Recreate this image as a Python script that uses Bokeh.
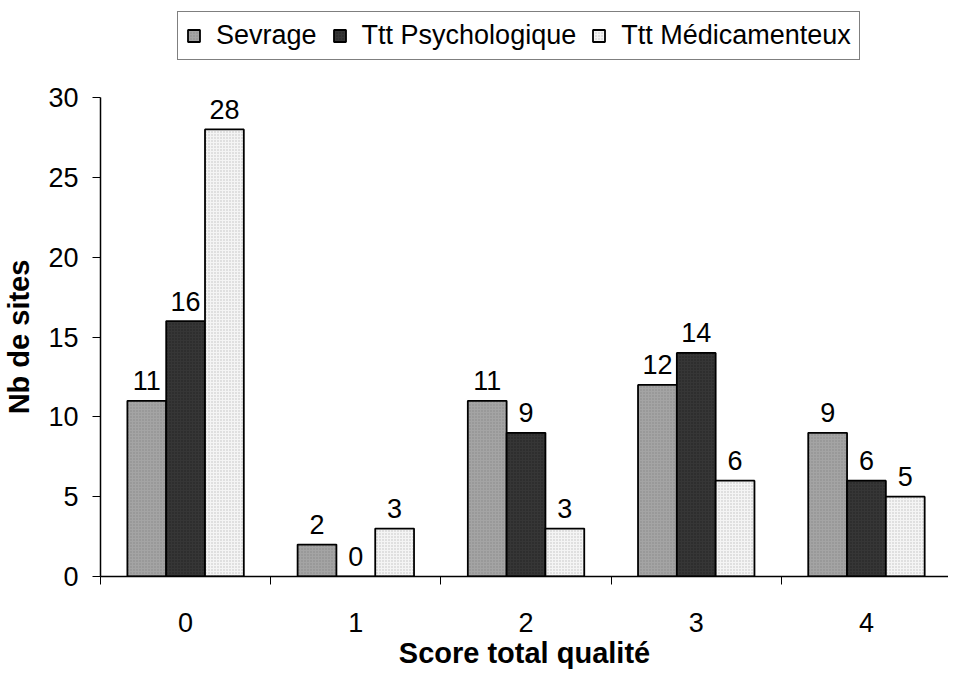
from bokeh.plotting import figure
from bokeh.layouts import column
from bokeh.models import ColumnDataSource, FixedTicker, Legend, LegendItem, Range1d
from bokeh.transform import dodge
from bokeh.core.properties import value
from bokeh.embed import file_html
from bokeh.resources import INLINE

# ---- data ----
scores = [0, 1, 2, 3, 4]
score_labels = ["0", "1", "2", "3", "4"]
sevrage = [11, 2, 11, 12, 9]
psychologique = [16, 0, 9, 14, 6]
medicamenteux = [28, 3, 3, 6, 5]
series_names = ["Sevrage", "Ttt Psychologique", "Ttt Médicamenteux"]
y_ticks = [0, 5, 10, 15, 20, 25, 30]

FONT = "Liberation Sans"
BW = 0.228
LEG_H = 82

styles = [
    dict(fill_color="#a4a4a4", hatch_pattern=".", hatch_color="#6a6a6a", hatch_scale=3, hatch_alpha=0.5),
    dict(fill_color="#363636", hatch_pattern=".", hatch_color="#0e0e0e", hatch_scale=3, hatch_alpha=0.5),
    dict(fill_color="#f4f4f4", hatch_pattern=".", hatch_color="#9a9a9a", hatch_scale=3, hatch_alpha=0.6),
]

# ---- main chart ----
p = figure(width=948, height=677 - LEG_H, output_backend="svg", toolbar_location=None,
           x_range=Range1d(-0.5, 4.482), y_range=Range1d(0, 30),
           min_border_left=96, min_border_right=0, min_border_top=15, min_border_bottom=101)
p.outline_line_color = None
p.xgrid.visible = False
p.ygrid.visible = False
p.background_fill_color = "white"
p.border_fill_color = "white"

src = ColumnDataSource(dict(x=scores, s=sevrage, p=psychologique, m=medicamenteux,
                            ls=[str(v) for v in sevrage],
                            lp=[str(v) for v in psychologique],
                            lm=[str(v) for v in medicamenteux]))

cols = ["s", "p", "m"]
lcols = ["ls", "lp", "lm"]
offs = [-BW, 0.0, BW]
for c, lc, off, st in zip(cols, lcols, offs, styles):
    p.vbar(x=dodge("x", off, range=p.x_range), top=c, width=BW, bottom=0, source=src,
           line_color="black", line_width=1.8, **st)
    p.text(x=dodge("x", off, range=p.x_range), y=c, text=lc, source=src,
           text_align="center", text_baseline="alphabetic", y_offset=-20,
           text_font=value(FONT), text_font_size="27px", text_color="black")

# x axis
xa = p.xaxis[0]
xa.ticker = FixedTicker(ticks=scores, minor_ticks=[-0.5, 0.5, 1.5, 2.5, 3.5, 4.5])
xa.major_label_overrides = {s: l for s, l in zip(scores, score_labels)}
xa.major_tick_out = 0
xa.major_tick_in = 0
xa.minor_tick_out = 8
xa.minor_tick_in = 0
xa.minor_tick_line_color = "black"
xa.axis_line_color = "black"
xa.axis_line_width = 1.5
xa.major_label_text_font = FONT
xa.major_label_text_font_size = "27px"
xa.major_label_text_color = "black"
xa.major_label_standoff = 28
xa.axis_label = "Score total qualité"
xa.axis_label_text_font = FONT
xa.axis_label_text_font_style = "bold"
xa.axis_label_text_font_size = "29px"
xa.axis_label_text_color = "black"
xa.axis_label_standoff = 2

ya = p.yaxis[0]
ya.ticker = FixedTicker(ticks=y_ticks, minor_ticks=[])
ya.major_tick_out = 8
ya.major_tick_in = 0
ya.major_tick_line_color = "black"
ya.axis_line_color = "black"
ya.axis_line_width = 1.5
ya.major_label_text_font = FONT
ya.major_label_text_font_size = "27px"
ya.major_label_text_color = "black"
ya.major_label_standoff = 14
ya.axis_label = "Nb de sites"
ya.axis_label_text_font = FONT
ya.axis_label_text_font_style = "bold"
ya.axis_label_text_font_size = "29px"
ya.axis_label_text_color = "black"
ya.axis_label_standoff = 10

# ---- legend strip ----
lf = figure(width=948, height=LEG_H, output_backend="svg", toolbar_location=None,
            x_range=Range1d(0, 1), y_range=Range1d(0, 1), x_axis_type=None, y_axis_type=None,
            min_border=0)
lf.outline_line_color = None
lf.background_fill_color = "white"
lf.border_fill_color = "white"
# tiny placeholder bars, hidden behind the legend box (only used for legend swatches)
leg_src = ColumnDataSource(dict(x=[0.5], top=[0.6], bottom=[0.55]))
leg_renderers = []
for st in styles:
    r = lf.vbar(x="x", top="top", bottom="bottom", width=0.005, source=leg_src,
                line_color="black", line_width=1.8, **st)
    leg_renderers.append(r)

legend = Legend(items=[LegendItem(label=n, renderers=[r]) for n, r in zip(series_names, leg_renderers)],
                orientation="horizontal", location=(77, 22),
                label_text_font=FONT, label_text_font_size="27px", label_text_color="black",
                glyph_width=15, glyph_height=15, label_standoff=15, spacing=15,
                padding=8, margin=0, border_line_color="black", border_line_width=1.5,
                background_fill_color="white", background_fill_alpha=1.0)
lf.add_layout(legend, "center")

layout = column(lf, p, spacing=0)
open("out.html", "w").write(file_html(layout, INLINE))
